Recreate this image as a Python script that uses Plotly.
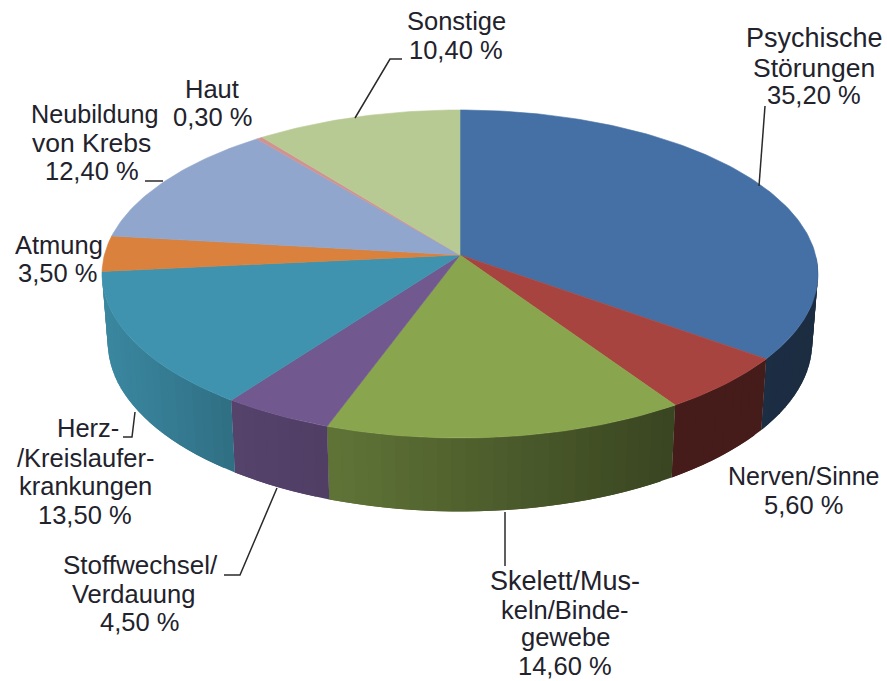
import numpy as np
import plotly.graph_objects as go

categories = ["Psychische Störungen", "Nerven/Sinne", "Skelett/Muskeln/Bindegewebe",
              "Stoffwechsel/Verdauung", "Herz-/Kreislauferkrankungen", "Atmung",
              "Neubildung von Krebs", "Haut", "Sonstige"]
values = [35.2, 5.6, 14.6, 4.5, 13.5, 3.5, 12.4, 0.3, 10.4]
colors = ["#4570A5", "#A8443F", "#89A54E", "#71588F", "#3F93AE", "#D9813D",
          "#91A6CC", "#D19392", "#B8CA94"]
name_lines = [["Psychische", "Störungen"], ["Nerven/Sinne"], ["Skelett/Mus-", "keln/Binde-", "gewebe"],
              ["Stoffwechsel/", "Verdauung"], ["Herz-", "/Kreislaufer-", "krankungen"], ["Atmung"],
              ["Neubildung", "von Krebs"], ["Haut"], ["Sonstige"]]
# layout of each label's lines: (centre x, centre y) in pixels
label_pos = [
    [(814, 38), (814, 68), (814, 95)],
    [(803, 476), (803, 505)],
    [(565, 581), (565, 610), (565, 637), (565, 666)],
    [(140, 565), (133, 594), (139, 622)],
    [(88, 428), (85, 458), (85, 486), (85, 515)],
    [(59, 245), (57, 273)],
    [(94, 114), (91, 143), (92, 171)],
    [(212, 89), (212, 117)],
    [(456, 21), (456, 50)],
]
leaders = [
    [(765, 106), (759, 186)],
    [(505, 512), (505, 566)],
    [(277, 488), (240, 575), (224, 575)],
    [(135, 412), (132, 437), (123, 437)],
    [(145, 181), (163, 181)],
    [(355, 118), (390, 59), (402, 59)],
]
BASE_SIZE = 25.5
line_sizes = {"Psychische": 27, "Störungen": 26.5, "Skelett/Mus-": 27, "Stoffwechsel/": 26,
              "Nerven/Sinne": 25, "Neubildung": 25.2, "von Krebs": 26.5}

CX, CY, RX, RY, P = 460.0, 255.0, 355.6, 161.8, 0.1158
XS, YS, DY = 0.984, 1.03, 68.0


def top(theta):
    u, v = np.sin(theta), np.cos(theta)
    w = 1 + P * v
    return CX + RX * u / w, CY - RY * v / w


def bottom(theta):
    x, y = top(theta)
    return CX + (x - CX) * XS, CY + (y - CY) * YS + DY


def shade(hex_color, f):
    r, g, b = (int(hex_color[i:i + 2], 16) for i in (1, 3, 5))
    return f"rgb({r * f:.0f},{g * f:.0f},{b * f:.0f})"


def wall_factor(x):
    return float(np.interp(x, [103, 230, 330, 500, 670, 820], [0.92, 0.76, 0.70, 0.56, 0.42, 0.40]))


fig = go.Figure()
edges = np.concatenate([[0], np.cumsum(values)]) / sum(values) * 2 * np.pi
common = dict(mode="lines", fill="toself", hoverinfo="skip", showlegend=False)

# side wall, drawn as narrow shaded strips, each overlapping the next
for i, col in enumerate(colors):
    a0, a1 = edges[i], edges[i + 1]
    lo, hi = max(a0, np.radians(90)), min(a1, np.radians(264.3))
    if hi <= lo:
        continue
    n = max(2, int(np.degrees(hi - lo) / 2.0))
    ts = np.linspace(lo, hi, n + 1)
    for j, (t0, t1) in enumerate(zip(ts[:-1], ts[1:])):
        end = ts[j + 2] if j + 2 <= n else t1
        seg = np.linspace(t0, end, 5)
        tx, ty = top(seg)
        bx, by = bottom(seg[::-1])
        c = shade(col, wall_factor(top(np.array([(t0 + t1) / 2]))[0][0]))
        fig.add_trace(go.Scatter(x=np.r_[tx, bx, tx[0]], y=np.r_[ty, by, ty[0]],
                                 line=dict(color=c, width=0), fillcolor=c, **common))

# top face
for i, col in enumerate(colors):
    ts = np.linspace(edges[i], edges[i + 1], max(3, int(np.degrees(edges[i + 1] - edges[i])) + 2))
    tx, ty = top(ts)
    fig.add_trace(go.Scatter(x=np.r_[CX, tx, CX], y=np.r_[CY, ty, CY],
                             line=dict(color=col, width=0.6), fillcolor=col, name=categories[i], **common))

for pts in leaders:
    fig.add_trace(go.Scatter(x=[p[0] for p in pts], y=[p[1] for p in pts], mode="lines",
                             line=dict(color="#2a2a2a", width=1.5), hoverinfo="skip", showlegend=False))

annotations = []
for names, v, pos in zip(name_lines, values, label_pos):
    lines = names + [f"{v:.2f} %".replace(".", ",")]
    for text, (x, y) in zip(lines, pos):
        annotations.append(dict(x=x, y=y, text=text, showarrow=False, xanchor="center", yanchor="middle",
                                font=dict(family="Liberation Sans", size=line_sizes.get(text, BASE_SIZE),
                                          color="#22222c")))

fig.update_layout(
    width=887, height=681, margin=dict(l=0, r=0, t=0, b=0),
    paper_bgcolor="white", plot_bgcolor="white", annotations=annotations,
    xaxis=dict(range=[0, 887], visible=False, fixedrange=True),
    yaxis=dict(range=[681, 0], visible=False, fixedrange=True),
)
fig.write_html("out.html", config={"displayModeBar": False}, post_script="document.body.style.margin='0';")
